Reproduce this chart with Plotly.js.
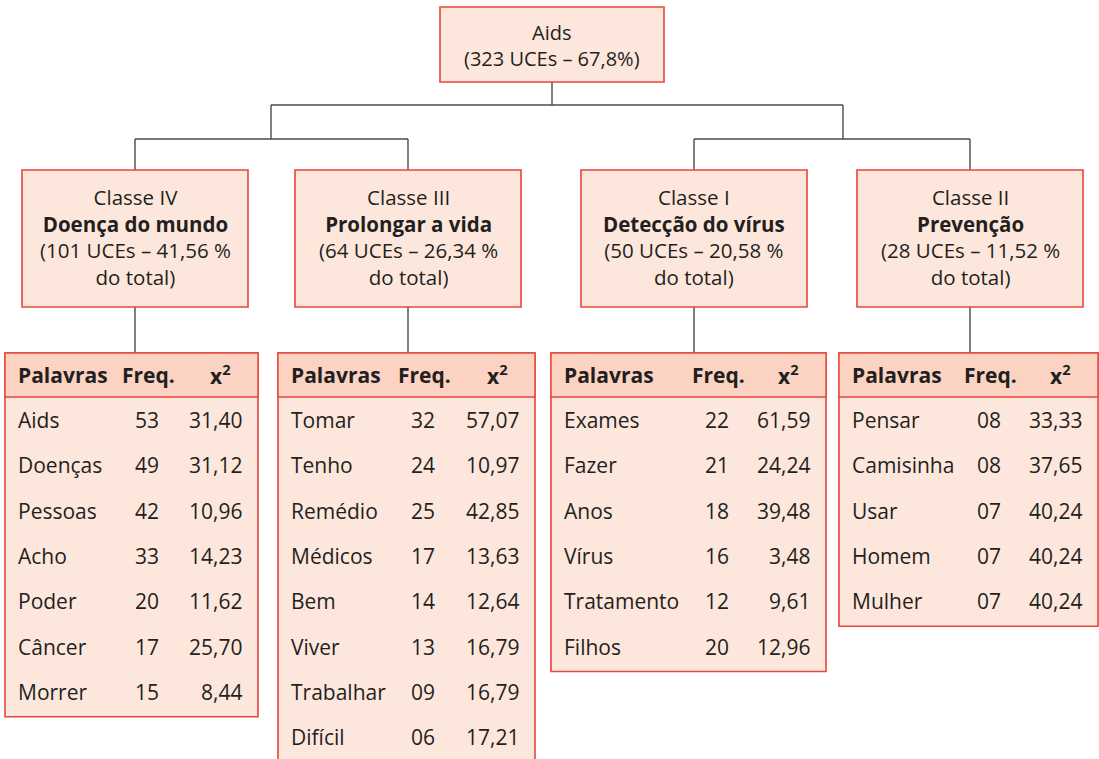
<!DOCTYPE html>
<html><head><meta charset="utf-8">
<script src="https://cdn.plot.ly/plotly-3.0.1.min.js"></script>
<style>html,body{margin:0;padding:0;background:#fff}#chart{width:1099px;height:759px}</style>
</head><body><div id="chart"></div>
<script>
// ---- data ----
const rootLabel = 'Aids';
const rootStats = '(323 UCEs – 67,8%)';
const classNames = ['Classe IV', 'Classe III', 'Classe I', 'Classe II'];
const classTitles = ['Doença do mundo', 'Prolongar a vida', 'Detecção do vírus', 'Prevenção'];
const classUCEs = ['101', '64', '50', '28'];
const classPct = ['41,56', '26,34', '20,58', '11,52'];
const headers = ['Palavras', 'Freq.', 'x<sup>2</sup>'];
const words = [
  ['Aids', 'Doenças', 'Pessoas', 'Acho', 'Poder', 'Câncer', 'Morrer'],
  ['Tomar', 'Tenho', 'Remédio', 'Médicos', 'Bem', 'Viver', 'Trabalhar', 'Difícil'],
  ['Exames', 'Fazer', 'Anos', 'Vírus', 'Tratamento', 'Filhos'],
  ['Pensar', 'Camisinha', 'Usar', 'Homem', 'Mulher']
];
const freqs = [
  ['53', '49', '42', '33', '20', '17', '15'],
  ['32', '24', '25', '17', '14', '13', '09', '06'],
  ['22', '21', '18', '16', '12', '20'],
  ['08', '08', '07', '07', '07']
];
const chi2 = [
  ['31,40', '31,12', '10,96', '14,23', '11,62', '25,70', '8,44'],
  ['57,07', '10,97', '42,85', '13,63', '12,64', '16,79', '16,79', '17,21'],
  ['61,59', '24,24', '39,48', '3,48', '9,61', '12,96'],
  ['33,33', '37,65', '40,24', '40,24', '40,24']
];

// ---- layout geometry ----
const W = 1099, H = 759;
const FONT = 'Open Sans, Noto Sans, sans-serif';
const TXT = '#231f20';
const RED = '#e8453b';
const FILL = '#fde7dd';
const HFILL = '#fcd3c2';
const LINE = '#4a4a4a';
const FS = 21;

const root = {x0: 440, x1: 664, y0: 7, y1: 82};
const boxX = [[22, 248], [295, 521], [581, 807], [857, 1083]];
const boxY = [170, 307];
const tableX = [[5, 258], [278, 535], [551, 826], [839, 1098]];
const freqRight = [160, 436, 730, 1002];
const branchX = [271, 843];
const tableTop = 353, headBottom = 397, row0 = 420, rowStep = 45.3;

const shapes = [], ann = [];
function rect(x0, y0, x1, y1, fill, lw) {
  shapes.push({type: 'rect', xref: 'x', yref: 'y', x0, y0, x1, y1, fillcolor: fill, line: {color: RED, width: lw === undefined ? 1.6 : lw}, layer: 'below'});
}
function seg(x0, y0, x1, y1) {
  shapes.push({type: 'line', xref: 'x', yref: 'y', x0, y0, x1, y1, line: {color: LINE, width: 1.4}, layer: 'below'});
}
function text(t, x, y, xa, bold, size) {
  ann.push({text: bold ? '<b>' + t + '</b>' : t, x, y, xref: 'x', yref: 'y', xanchor: xa, yanchor: 'middle', showarrow: false,
    borderpad: 0, font: {family: FONT, size: size || FS, color: TXT}});
}

// connectors
const rootCx = (root.x0 + root.x1) / 2;
const cx = boxX.map(b => (b[0] + b[1]) / 2);
seg(rootCx, root.y1, rootCx, 105);
seg(branchX[0], 105, branchX[1], 105);
seg(branchX[0], 105, branchX[0], 139);
seg(branchX[1], 105, branchX[1], 139);
seg(cx[0], 139, cx[1], 139);
seg(cx[2], 139, cx[3], 139);
cx.forEach(c => { seg(c, 139, c, boxY[0]); seg(c, boxY[1], c, tableTop); });

// root box
rect(root.x0, root.y0, root.x1, root.y1, FILL);
text(rootLabel + '<br>' + rootStats, rootCx, 45, 'center', false, 20);

// class boxes and tables
classNames.forEach((name, i) => {
  const [bx0, bx1] = boxX[i];
  rect(bx0, boxY[0], bx1, boxY[1], FILL);
  text(name + '<br><b>' + classTitles[i] + '</b><br>(' + classUCEs[i] + ' UCEs – ' + classPct[i] + ' %<br>do total)',
    cx[i], 237, 'center', false, 20.5);

  const [tx0, tx1] = tableX[i];
  const n = words[i].length;
  const bottom = row0 + (n - 1) * rowStep + 25;
  rect(tx0, tableTop, tx1, bottom, FILL);
  rect(tx0, tableTop, tx1, headBottom, HFILL, 1.4);
  text(headers[0], tx0 + 12, 375, 'left', true);
  text(headers[1], freqRight[i] + 16, 375, 'right', true);
  text(headers[2], tx1 - 38, 374, 'center', true);
  words[i].forEach((w, r) => {
    const y = row0 + r * rowStep;
    text(w, tx0 + 12, y, 'left');
    text(freqs[i][r], freqRight[i], y, 'right');
    text(chi2[i][r], tx1 - 15, y, 'right');
  });
});

const layout = {
  width: W, height: H,
  margin: {l: 0, r: 0, t: 0, b: 0},
  paper_bgcolor: '#fff', plot_bgcolor: '#fff',
  xaxis: {range: [0, W], visible: false, fixedrange: true},
  yaxis: {range: [H, 0], visible: false, fixedrange: true},
  shapes, annotations: ann, showlegend: false
};
Plotly.newPlot('chart', [{x: [], y: [], type: 'scatter', hoverinfo: 'skip'}], layout, {staticPlot: true, displayModeBar: false});
</script></body></html>
